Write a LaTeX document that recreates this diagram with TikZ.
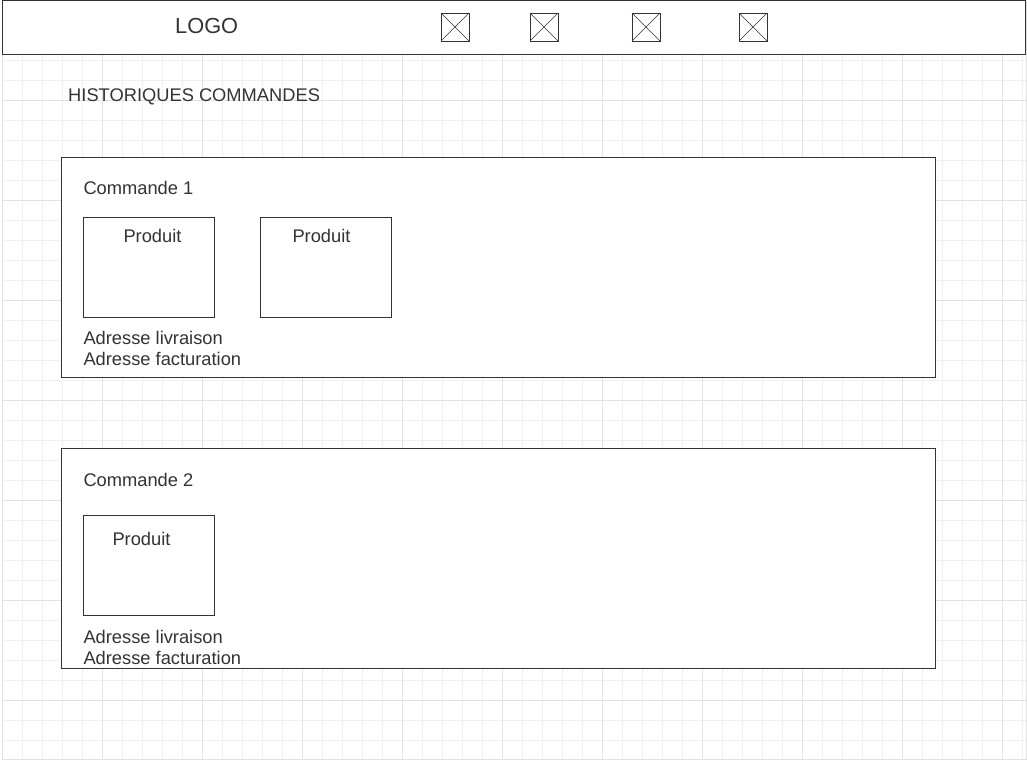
\documentclass[tikz,border=0pt]{standalone}
\usepackage{fontspec}
\setmainfont{Liberation Sans}
\definecolor{txt}{HTML}{333333}
\definecolor{strk}{HTML}{333333}
\definecolor{gminor}{HTML}{F0F0F0}
\definecolor{gmajor}{HTML}{E2E2E2}
\begin{document}
\begin{tikzpicture}[x=1pt,y=-1pt,
  box/.style={draw=strk,line width=0.8pt,fill=white,outer sep=0pt},
  lbl/.style={anchor=base west,inner sep=0pt,text=txt,font=\fontsize{18.3}{21}\selectfont},
  icon/.style={draw=strk,line width=0.8pt,fill=white,minimum size=28pt,inner sep=0pt,outer sep=0pt}]
\useasboundingbox (0,0) rectangle (1027,761);
% grid
\fill[white] (0,0) rectangle (1027,761);
\foreach \x in {2,22,...,1022} \draw[gminor,line width=0.8pt] (\x,0) -- (\x,759.5);
\foreach \y in {20,40,...,740} \draw[gminor,line width=0.8pt] (2,\y) -- (1026,\y);
\foreach \x in {2,102,...,1002} \draw[gmajor,line width=0.8pt] (\x,0) -- (\x,759.5);
\foreach \y in {100,200,...,700} \draw[gmajor,line width=0.8pt] (2,\y) -- (1026,\y);
\draw[gmajor,line width=0.8pt] (1026,0) -- (1026,759.5) -- (2,759.5);
% header
\node[box,anchor=north west,minimum width=1023pt,minimum height=53.5pt,inner sep=0pt] (header) at (2.5,0.5) {};
\node[lbl,font=\fontsize{21.8}{24}\selectfont] (logo) at (175,33.3) {LOGO};
\node[icon] (i1) at (455,27) {};
\node[icon] (i2) at (544,27) {};
\node[icon] (i3) at (646,27) {};
\node[icon] (i4) at (753,27) {};
\foreach \i in {i1,i2,i3,i4}{
  \draw[strk,line width=0.6pt] (\i.north west) -- (\i.south east);
  \draw[strk,line width=0.6pt] (\i.north east) -- (\i.south west);
}
\node[lbl] (title) at (68,101.7) {HISTORIQUES COMMANDES};
% commande 1
\node[box,anchor=north west,minimum width=874pt,minimum height=220pt,inner sep=0pt] (c1) at (61.5,157.5) {};
\node[lbl] (c1t) at (83.3,194.3) {Commande 1};
\node[box,anchor=north west,minimum width=131pt,minimum height=100pt,inner sep=0pt] (p11) at (83.5,217.5) {};
\node[box,anchor=north west,minimum width=131pt,minimum height=100pt,inner sep=0pt] (p12) at (260.5,217.5) {};
\node[lbl] (p11t) at (123.3,242.7) {Produit};
\node[lbl] (p12t) at (292.3,242.7) {Produit};
\node[lbl] (c1a) at (83.3,344.3) {Adresse livraison};
\node[lbl] (c1f) at (83.3,365.3) {Adresse facturation};
% commande 2
\node[box,anchor=north west,minimum width=874pt,minimum height=220pt,inner sep=0pt] (c2) at (61.5,448.5) {};
\node[lbl] (c2t) at (83.3,486.3) {Commande 2};
\node[box,anchor=north west,minimum width=131pt,minimum height=100pt,inner sep=0pt] (p21) at (83.5,515.5) {};
\node[lbl] (p21t) at (112.3,545.5) {Produit};
\node[lbl] (c2a) at (83.3,643.5) {Adresse livraison};
\node[lbl] (c2f) at (83.3,664.5) {Adresse facturation};
\end{tikzpicture}
\end{document}
